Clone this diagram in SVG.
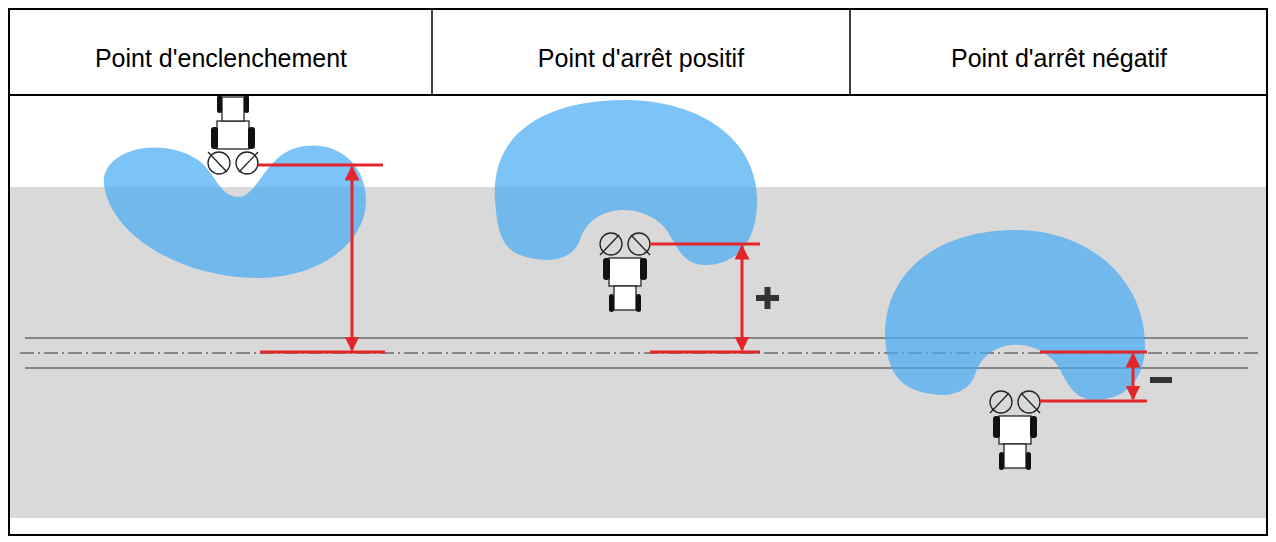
<svg xmlns="http://www.w3.org/2000/svg" xmlns:xlink="http://www.w3.org/1999/xlink" width="1276" height="542" viewBox="0 0 1276 542">
<style>
.h{font-family:"Liberation Sans",Arial,sans-serif;font-size:25px;fill:#000;text-anchor:middle}
.red{stroke:#e3262c;stroke-width:3;fill:none}
.blue{fill:#45aaf5;opacity:0.7}
.thin{stroke:#333;stroke-width:1;fill:none}
</style>
<defs>
<marker id="ah" viewBox="0 0 10 10" refX="9" refY="5" markerWidth="5" markerHeight="5" orient="auto-start-reverse"><path d="M0,0 L10,5 L0,10 Z" fill="#e3262c"/></marker>
<g id="tractor">
<rect x="-16" y="-42" width="32" height="28" fill="#fff" stroke="#222" stroke-width="1.3"/>
<rect x="-11" y="-66" width="22" height="24" fill="#fff" stroke="#222" stroke-width="1.3"/>
<rect x="-22" y="-36" width="7" height="22" rx="3" fill="#111"/>
<rect x="15" y="-36" width="7" height="22" rx="3" fill="#111"/>
<rect x="-16" y="-68" width="5" height="18" rx="2.5" fill="#111"/>
<rect x="11" y="-68" width="5" height="18" rx="2.5" fill="#111"/>
<g fill="none" stroke="#222" stroke-width="1.3">
<circle cx="-14" cy="0" r="11"/><circle cx="14" cy="0" r="11"/>
<line x1="-25" y1="-11" x2="-6" y2="9"/><line x1="25" y1="-11" x2="6" y2="9"/>
</g>
</g>
</defs>
<rect x="0" y="0" width="1276" height="542" fill="#fff"/>
<rect x="10" y="187" width="1256" height="331" fill="#d9d9d9"/>
<g id="lines">
<line x1="25" y1="338" x2="1248" y2="338" class="thin"/>
<line x1="25" y1="368" x2="1248" y2="368" class="thin"/>
<line x1="20" y1="353" x2="1262" y2="353" stroke="#333" stroke-width="1" stroke-dasharray="14,4,2,4"/>
</g>
<g id="spray1"><path class="blue" d="M104,185 C100,150 160,135 198,160 C214,171 220,197 238,197 C256,197 264,162 290,150 C330,135 366,160 366,200 C366,242 322,276 262,278 C190,280 112,240 104,185 Z"/></g>
<g id="spray2"><path class="blue" d="M495,200 C490,130 550,100 625,100 C700,100 760,140 757,205 C755,250 730,265 705,265 C680,265 675,240 665,228 C640,200 590,205 580,240 C570,265 540,262 520,255 C500,248 497,225 495,200 Z"/></g>
<g id="spray3"><path class="blue" d="M885,335 C885,270 940,230 1015,230 C1090,230 1145,280 1145,345 C1145,385 1120,400 1095,400 C1070,400 1065,375 1055,362 C1030,335 985,340 975,375 C965,400 935,397 915,390 C893,382 886,360 885,335 Z"/></g>
<g id="tractor1"><use xlink:href="#tractor" transform="translate(233,163)"/></g>
<g id="tractor2"><use xlink:href="#tractor" transform="translate(625,244) scale(1,-1)"/></g>
<g id="tractor3"><use xlink:href="#tractor" transform="translate(1015,402) scale(1,-1)"/></g>
<g id="connectors">
<line class="red" x1="258" y1="165" x2="383" y2="165"/>
<line class="red" x1="260" y1="352" x2="385" y2="352"/>
<line class="red" x1="352" y1="167" x2="352" y2="350" marker-start="url(#ah)" marker-end="url(#ah)"/>
<line class="red" x1="650" y1="244" x2="760" y2="244"/>
<line class="red" x1="650" y1="352" x2="760" y2="352"/>
<line class="red" x1="742" y1="246" x2="742" y2="350" marker-start="url(#ah)" marker-end="url(#ah)"/>
<line class="red" x1="1040" y1="352" x2="1147" y2="352"/>
<line class="red" x1="1040" y1="401" x2="1147" y2="401"/>
<line class="red" x1="1133" y1="354" x2="1133" y2="399" marker-start="url(#ah)" marker-end="url(#ah)"/>
</g>
<g id="signs" fill="#333">
<rect x="756" y="295" width="23" height="6"/><rect x="764.5" y="287" width="6" height="22"/>
<rect x="1150" y="377" width="22" height="6"/>
</g>
<g id="header">
<rect x="9" y="9" width="1258" height="526" fill="none" stroke="#000" stroke-width="2"/>
<line x1="9" y1="95" x2="1267" y2="95" stroke="#000" stroke-width="2"/>
<line x1="432" y1="9" x2="432" y2="95" stroke="#000" stroke-width="1.5"/>
<line x1="850" y1="9" x2="850" y2="95" stroke="#000" stroke-width="1.5"/>
<text class="h" x="221" y="67">Point d'enclenchement</text>
<text class="h" x="641" y="67">Point d'arrêt positif</text>
<text class="h" x="1059" y="67">Point d'arrêt négatif</text>
</g>
</svg>
